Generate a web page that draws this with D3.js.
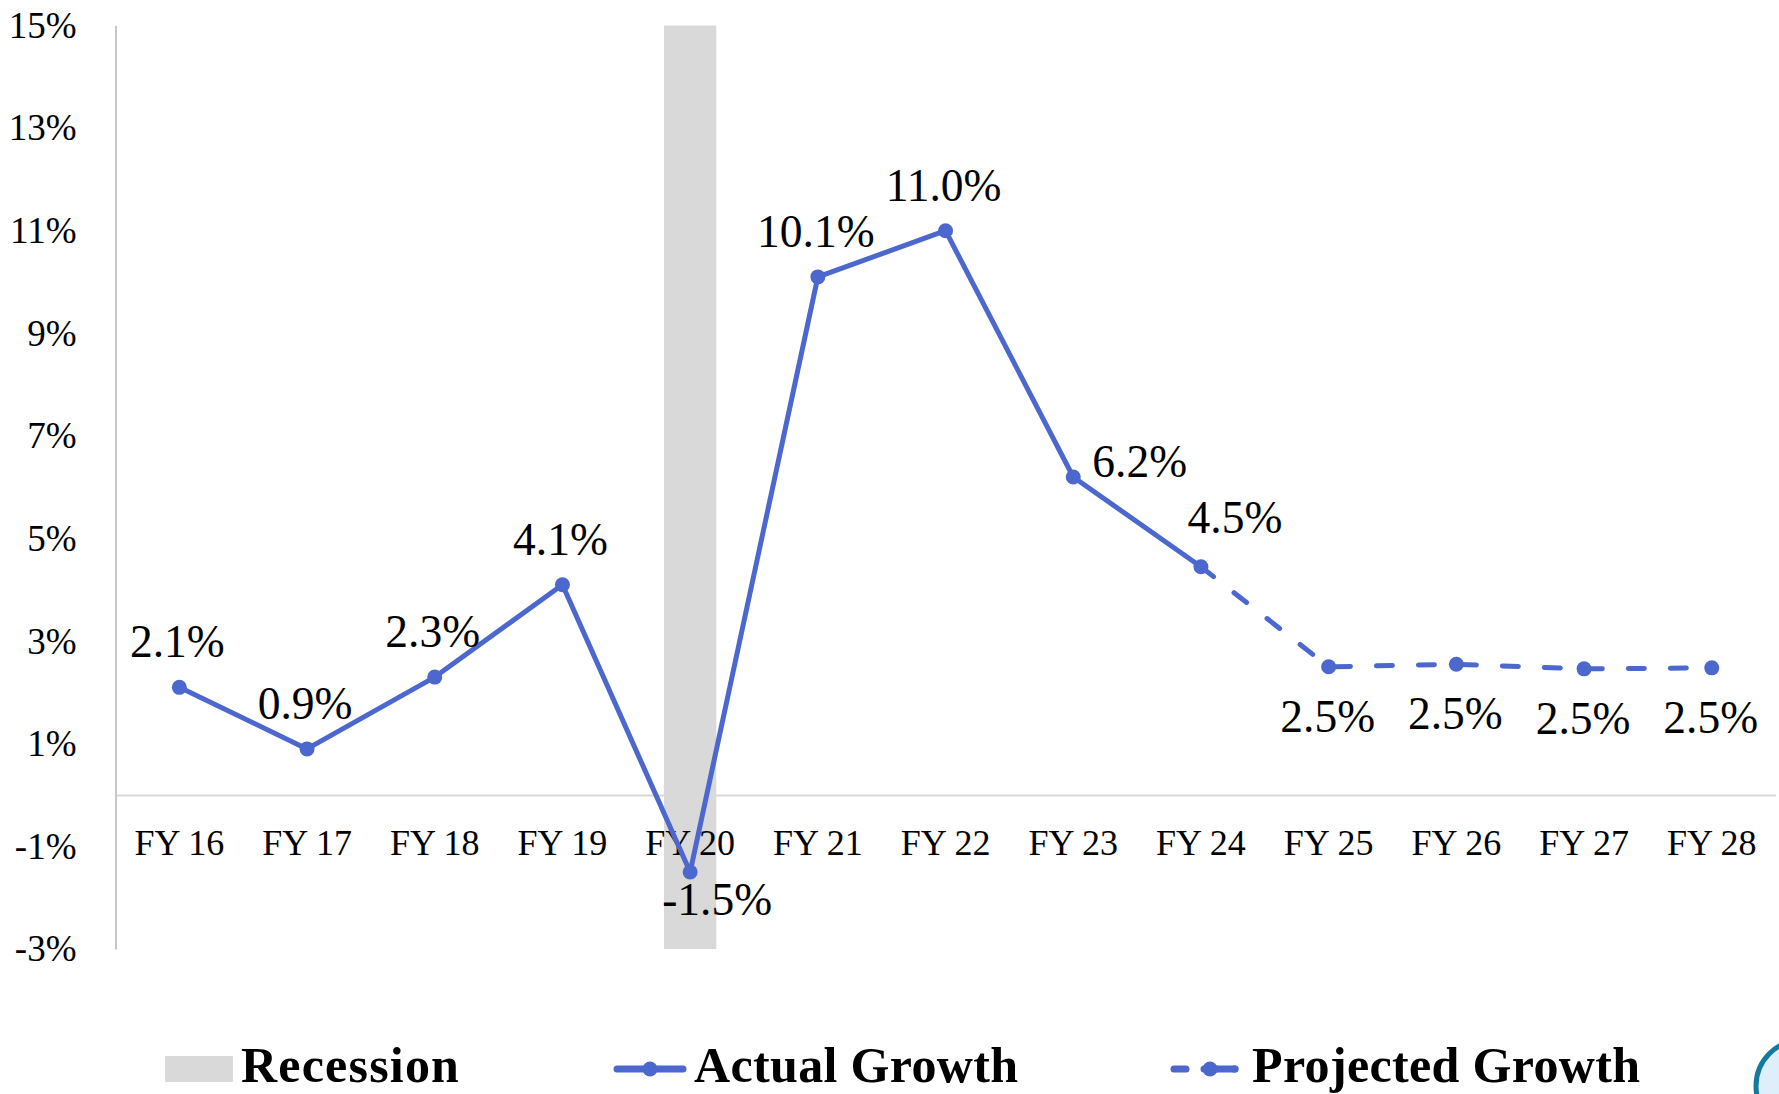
<!DOCTYPE html>
<html>
<head>
<meta charset="utf-8">
<script src="https://cdn.jsdelivr.net/npm/d3@7"></script>
<style>
  html, body { margin: 0; padding: 0; background: #ffffff; }
  svg { display: block; }
  text { font-family: "Liberation Serif", "Times New Roman", serif; fill: #000; }
</style>
</head>
<body>
<svg id="chart" width="1779" height="1094"></svg>
<script>
// ---- data ----
const categories = ["FY 16","FY 17","FY 18","FY 19","FY 20","FY 21","FY 22","FY 23","FY 24","FY 25","FY 26","FY 27","FY 28"];
const actualGrowth = [2.1, 0.9, 2.3, 4.1, -1.5, 10.1, 11.0, 6.2, 4.45, null, null, null, null];
const projectedGrowth = [null, null, null, null, null, null, null, null, 4.45, 2.5, 2.55, 2.46, 2.48];
const valueLabels = ["2.1%","0.9%","2.3%","4.1%","-1.5%","10.1%","11.0%","6.2%","4.5%","2.5%","2.5%","2.5%","2.5%"];
const labelPlacement = ["above","above","above","above","belowRight","above","above","right","aboveRight","below","below","below","below"];
const recessionCategories = ["FY 20"];
const yTickValues = [-3, -1, 1, 3, 5, 7, 9, 11, 13, 15];
const legendItems = ["Recession", "Actual Growth", "Projected Growth"];

// ---- layout ----
const svg = d3.select("#chart");
const plotLeft = 115.5, plotRight = 1775.6, plotTop = 25.5, plotBottom = 949;
const lineColor = "#4c67cd";
const gridColor = "#d9d9d9";

const x = d3.scaleBand().domain(categories).range([plotLeft, plotRight]).padding(0);
const y = d3.scaleLinear().domain([-3, 15]).range([plotBottom, plotTop]);
const cx = c => x(c) + x.bandwidth() / 2;

// zero line (x axis) drawn first, behind recession band
const xAxis = d3.axisBottom(x).tickSize(0).tickSizeOuter(0);
const gx = svg.append("g").attr("transform", `translate(0,${y(0)})`).call(xAxis);
gx.select(".domain").attr("stroke", gridColor).attr("stroke-width", 2);
gx.selectAll(".tick text").remove();

// recession band
svg.append("g").selectAll("rect").data(recessionCategories).join("rect")
  .attr("x", d => cx(d) - x.bandwidth() * 0.205)
  .attr("width", x.bandwidth() * 0.41)
  .attr("y", y(15))
  .attr("height", y(-3) - y(15))
  .attr("fill", "#d9d9d9");

// y axis
const yAxis = d3.axisLeft(y).tickValues(yTickValues).tickSize(0).tickSizeOuter(0).tickPadding(39).tickFormat(d => d + "%");
const gy = svg.append("g").attr("transform", `translate(${plotLeft},0)`).call(yAxis);
gy.select(".domain").attr("stroke", "#c8c8c8").attr("stroke-width", 2);
gy.selectAll(".tick text")
  .attr("font-family", "Liberation Serif")
  .attr("font-size", 37)
  .attr("fill", "#000")
  .attr("dy", "0.32em");

// x tick labels
svg.append("g").selectAll("text").data(categories).join("text")
  .attr("x", d => cx(d))
  .attr("y", y(0) + 60)
  .attr("text-anchor", "middle")
  .attr("font-size", 36)
  .text(d => d);

// lines
const line = d3.line()
  .defined(d => d.v !== null)
  .x(d => cx(d.c))
  .y(d => y(d.v));

const actualData = categories.map((c, i) => ({ c, v: actualGrowth[i] }));
const projData = categories.map((c, i) => ({ c, v: projectedGrowth[i] }));

svg.append("path").datum(projData)
  .attr("d", line)
  .attr("fill", "none")
  .attr("stroke", lineColor)
  .attr("stroke-width", 5)
  .attr("stroke-linecap", "round")
  .attr("stroke-dasharray", "16,26");

svg.append("path").datum(actualData)
  .attr("d", line)
  .attr("fill", "none")
  .attr("stroke", lineColor)
  .attr("stroke-width", 5)
  .attr("stroke-linejoin", "round");

// markers
svg.append("g").selectAll("circle").data(actualData.filter(d => d.v !== null)).join("circle")
  .attr("cx", d => cx(d.c)).attr("cy", d => y(d.v)).attr("r", 7.5).attr("fill", lineColor);
svg.append("g").selectAll("circle").data(projData.filter((d, i) => d.v !== null && actualGrowth[i] === null)).join("circle")
  .attr("cx", d => cx(d.c)).attr("cy", d => y(d.v)).attr("r", 7.5).attr("fill", lineColor);

// value labels
const placeOffsets = {
  above: { dx: -2, dy: -30, anchor: "middle" },
  belowRight: { dx: 27, dy: 43, anchor: "middle" },
  right: { dx: 19, dy: 0, anchor: "start" },
  aboveRight: { dx: 34, dy: -34, anchor: "middle" },
  below: { dx: -1, dy: 65, anchor: "middle" }
};
const labelData = categories.map((c, i) => ({
  c, label: valueLabels[i],
  v: actualGrowth[i] !== null ? actualGrowth[i] : projectedGrowth[i],
  p: placeOffsets[labelPlacement[i]]
}));
svg.append("g").selectAll("text").data(labelData).join("text")
  .attr("x", d => cx(d.c) + d.p.dx)
  .attr("y", d => y(d.v) + d.p.dy)
  .attr("text-anchor", d => d.p.anchor)
  .attr("font-size", 45.5)
  .text(d => d.label);

// legend
const legend = svg.append("g");
const legendY = 1069;
const legendFont = 50, legendSpacing = 0.35;
// Recession swatch
legend.append("rect").attr("x", 165).attr("y", 1056).attr("width", 68).attr("height", 26).attr("fill", "#d9d9d9");
legend.append("text").attr("x", 241).attr("y", 1082).attr("font-size", legendFont).attr("letter-spacing", 1.2).attr("font-weight", "bold").text(legendItems[0]);
// Actual Growth
legend.append("line").attr("x1", 617).attr("x2", 683).attr("y1", legendY).attr("y2", legendY)
  .attr("stroke", lineColor).attr("stroke-width", 7).attr("stroke-linecap", "round");
legend.append("circle").attr("cx", 650).attr("cy", legendY).attr("r", 7.5).attr("fill", lineColor);
legend.append("text").attr("x", 694).attr("y", 1082).attr("font-size", legendFont).attr("letter-spacing", legendSpacing).attr("font-weight", "bold").text(legendItems[1]);
// Projected Growth
legend.append("line").attr("x1", 1174).attr("x2", 1235).attr("y1", legendY).attr("y2", legendY)
  .attr("stroke", lineColor).attr("stroke-width", 7).attr("stroke-linecap", "round")
  .attr("stroke-dasharray", "12,18");
legend.append("circle").attr("cx", 1210).attr("cy", legendY).attr("r", 7.5).attr("fill", lineColor);
legend.append("line").attr("x1", 1212).attr("x2", 1235).attr("y1", legendY).attr("y2", legendY)
  .attr("stroke", lineColor).attr("stroke-width", 7).attr("stroke-linecap", "round");
legend.append("text").attr("x", 1252).attr("y", 1082).attr("font-size", legendFont).attr("letter-spacing", legendSpacing).attr("font-weight", "bold").text(legendItems[2]);

// partial circle at bottom-right corner
svg.append("circle").attr("cx", 1802).attr("cy", 1086).attr("r", 46)
  .attr("fill", "#deeefb").attr("stroke", "#137a9c").attr("stroke-width", 5);
</script>
</body>
</html>
